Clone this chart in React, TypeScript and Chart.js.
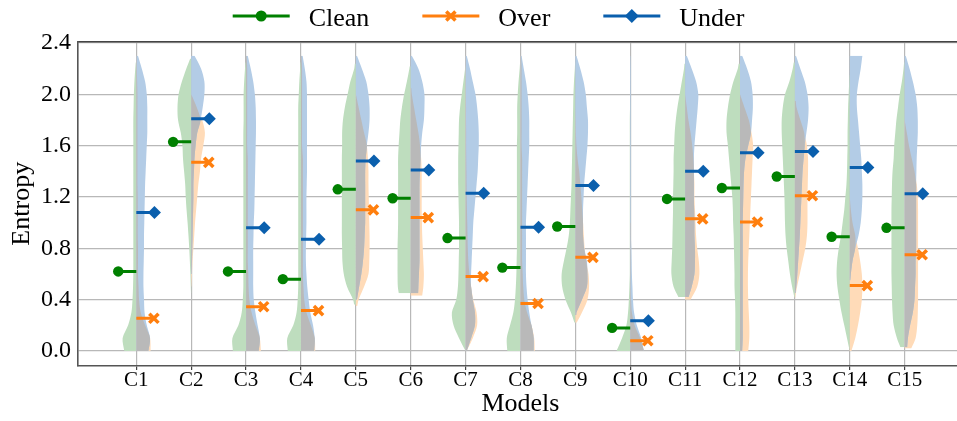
import { useEffect, useRef } from 'react';
import { Chart, registerables } from 'chart.js';

Chart.register(...registerables);

// ---------------- data ----------------
const categories = ['C1', 'C2', 'C3', 'C4', 'C5', 'C6', 'C7', 'C8', 'C9', 'C10', 'C11', 'C12', 'C13', 'C14', 'C15'];

const cleanMean = [0.62, 1.63, 0.62, 0.56, 1.26, 1.19, 0.88, 0.65, 0.97, 0.18, 1.185, 1.27, 1.36, 0.89, 0.96];
const overMean = [0.255, 1.47, 0.345, 0.315, 1.10, 1.04, 0.58, 0.37, 0.73, 0.08, 1.03, 1.005, 1.21, 0.51, 0.75];
const underMean = [1.08, 1.81, 0.96, 0.87, 1.48, 1.41, 1.23, 0.965, 1.29, 0.235, 1.40, 1.545, 1.555, 1.43, 1.225];

const yTicks = [0, 0.4, 0.8, 1.2, 1.6, 2.0, 2.4];

// entropy levels at which the (half-)violin densities are read
const densityLevels = [0, 0.1, 0.2, 0.3, 0.4, 0.5, 0.6, 0.7, 0.8, 0.9, 1.0, 1.1, 1.2, 1.3, 1.4, 1.5, 1.6, 1.7, 1.8, 1.9, 2.0, 2.1, 2.2, 2.3];

const cleanRange = [[0, 2.25], [0.45, 2.28], [0, 2.25], [0, 2.25], [0.36, 2.24], [0.45, 2.22], [0, 2.22], [0, 2.25], [0.22, 2.25], [0, 1.95], [0.42, 2.24], [0, 2.24], [0.42, 2.25], [0, 2.15], [0.03, 2.25]];
const overRange = [[0, 2.3], [0.5, 2.0], [0, 2.3], [0, 2.3], [0.35, 2.0], [0.43, 2.05], [0, 2.3], [0, 2.3], [0.22, 1.9], [0, 1.0], [0.4, 2.0], [0, 2.0], [0.41, 1.95], [0, 1.2], [0.02, 1.8]];
const underRange = [[0, 2.3], [0.6, 2.3], [0, 2.3], [0, 2.3], [0.4, 2.3], [0.45, 2.3], [0, 2.3], [0, 2.3], [0.28, 2.3], [0, 2.3], [0.42, 2.3], [0, 2.3], [0.45, 2.3], [0.55, 2.3], [0.03, 2.3]];

const cleanDensity = [
  [0.22, 0.25, 0.15, 0.09, 0.07, 0.06, 0.055, 0.055, 0.055, 0.055, 0.055, 0.055, 0.055, 0.055, 0.055, 0.055, 0.055, 0.055, 0.055, 0.05, 0.045, 0.035, 0.02, 0],
  [0, 0, 0, 0, 0, 0.008, 0.015, 0.025, 0.036, 0.05, 0.066, 0.085, 0.1, 0.11, 0.13, 0.15, 0.16, 0.19, 0.24, 0.25, 0.23, 0.17, 0.09, 0],
  [0.24, 0.25, 0.14, 0.08, 0.06, 0.05, 0.05, 0.05, 0.05, 0.05, 0.05, 0.05, 0.05, 0.05, 0.05, 0.05, 0.05, 0.05, 0.045, 0.045, 0.045, 0.035, 0.02, 0],
  [0.24, 0.25, 0.14, 0.08, 0.06, 0.05, 0.05, 0.05, 0.05, 0.05, 0.05, 0.05, 0.05, 0.05, 0.05, 0.05, 0.05, 0.05, 0.05, 0.05, 0.04, 0.03, 0.015, 0],
  [0, 0, 0, 0, 0.05, 0.16, 0.22, 0.245, 0.25, 0.255, 0.255, 0.255, 0.255, 0.255, 0.255, 0.255, 0.25, 0.25, 0.235, 0.2, 0.15, 0.1, 0.03, 0],
  [0, 0, 0, 0, 0.2, 0.235, 0.24, 0.24, 0.24, 0.235, 0.23, 0.23, 0.23, 0.23, 0.23, 0.23, 0.22, 0.205, 0.19, 0.16, 0.12, 0.07, 0.025, 0],
  [0, 0.12, 0.22, 0.25, 0.17, 0.14, 0.13, 0.125, 0.12, 0.12, 0.12, 0.125, 0.13, 0.135, 0.135, 0.135, 0.13, 0.125, 0.12, 0.1, 0.07, 0.04, 0.01, 0],
  [0.24, 0.25, 0.19, 0.13, 0.1, 0.085, 0.075, 0.07, 0.065, 0.065, 0.065, 0.065, 0.065, 0.065, 0.065, 0.065, 0.065, 0.06, 0.06, 0.06, 0.05, 0.035, 0.015, 0],
  [0, 0, 0, 0.08, 0.18, 0.24, 0.25, 0.21, 0.16, 0.12, 0.1, 0.09, 0.08, 0.07, 0.065, 0.06, 0.055, 0.05, 0.045, 0.04, 0.035, 0.025, 0.01, 0],
  [0.25, 0.15, 0.07, 0.04, 0.025, 0.015, 0.008, 0.008, 0.008, 0.008, 0.008, 0.008, 0.008, 0.008, 0.008, 0.008, 0.008, 0.008, 0.008, 0.004, 0, 0, 0, 0],
  [0, 0, 0, 0, 0.1, 0.21, 0.25, 0.245, 0.235, 0.23, 0.225, 0.22, 0.22, 0.215, 0.21, 0.21, 0.2, 0.19, 0.17, 0.14, 0.1, 0.06, 0.02, 0],
  [0.085, 0.085, 0.085, 0.085, 0.09, 0.1, 0.1, 0.105, 0.11, 0.115, 0.125, 0.13, 0.14, 0.16, 0.18, 0.2, 0.22, 0.245, 0.245, 0.22, 0.18, 0.12, 0.04, 0],
  [0, 0, 0, 0, 0, 0.05, 0.09, 0.12, 0.15, 0.17, 0.18, 0.185, 0.19, 0.2, 0.21, 0.22, 0.23, 0.24, 0.24, 0.22, 0.18, 0.1, 0.04, 0],
  [0, 0.05, 0.1, 0.15, 0.19, 0.225, 0.24, 0.23, 0.2, 0.16, 0.13, 0.1, 0.08, 0.06, 0.05, 0.045, 0.04, 0.04, 0.035, 0.03, 0.02, 0.01, 0, 0],
  [0.05, 0.14, 0.2, 0.22, 0.23, 0.235, 0.24, 0.24, 0.24, 0.24, 0.24, 0.24, 0.235, 0.23, 0.22, 0.2, 0.19, 0.17, 0.15, 0.12, 0.09, 0.05, 0.02, 0],
];

const overDensity = [
  [0.26, 0.25, 0.16, 0.08, 0.05, 0.04, 0.03, 0.03, 0.03, 0.025, 0.025, 0.025, 0.025, 0.02, 0.02, 0.02, 0.02, 0.02, 0.02, 0.02, 0.02, 0.015, 0.01, 0.01],
  [0, 0, 0, 0, 0, 0.005, 0.015, 0.025, 0.04, 0.055, 0.07, 0.09, 0.11, 0.13, 0.16, 0.18, 0.22, 0.25, 0.2, 0.1, 0, 0, 0, 0],
  [0.27, 0.25, 0.17, 0.1, 0.06, 0.045, 0.04, 0.03, 0.03, 0.03, 0.03, 0.03, 0.03, 0.03, 0.03, 0.03, 0.02, 0.02, 0.02, 0.02, 0.02, 0.02, 0.02, 0.01],
  [0.26, 0.25, 0.18, 0.1, 0.06, 0.045, 0.035, 0.035, 0.035, 0.035, 0.035, 0.035, 0.035, 0.035, 0.035, 0.035, 0.02, 0.02, 0.02, 0.02, 0.02, 0.02, 0.02, 0.01],
  [0, 0, 0, 0, 0.05, 0.15, 0.23, 0.245, 0.25, 0.25, 0.245, 0.24, 0.235, 0.23, 0.23, 0.22, 0.2, 0.15, 0.1, 0.05, 0, 0, 0, 0],
  [0, 0, 0, 0, 0.2, 0.23, 0.24, 0.23, 0.22, 0.21, 0.205, 0.2, 0.2, 0.2, 0.2, 0.19, 0.17, 0.14, 0.1, 0.06, 0.02, 0, 0, 0],
  [0.02, 0.13, 0.21, 0.2, 0.14, 0.1, 0.07, 0.05, 0.04, 0.035, 0.03, 0.025, 0.02, 0.018, 0.015, 0.012, 0.01, 0.01, 0.008, 0.008, 0.006, 0.005, 0.005, 0.005],
  [0.26, 0.25, 0.2, 0.12, 0.07, 0.05, 0.04, 0.03, 0.03, 0.03, 0.03, 0.03, 0.03, 0.03, 0.03, 0.03, 0.02, 0.02, 0.02, 0.02, 0.02, 0.02, 0.02, 0.01],
  [0, 0, 0, 0.12, 0.22, 0.25, 0.24, 0.2, 0.17, 0.155, 0.14, 0.125, 0.11, 0.09, 0.07, 0.04, 0.02, 0.01, 0.005, 0, 0, 0, 0, 0],
  [0.25, 0.18, 0.08, 0.03, 0.015, 0.008, 0.008, 0.008, 0.008, 0.008, 0.008, 0, 0, 0, 0, 0, 0, 0, 0, 0, 0, 0, 0, 0],
  [0, 0, 0, 0, 0.1, 0.22, 0.26, 0.25, 0.22, 0.2, 0.19, 0.18, 0.17, 0.17, 0.16, 0.15, 0.13, 0.1, 0.06, 0.03, 0, 0, 0, 0],
  [0.15, 0.17, 0.17, 0.16, 0.15, 0.145, 0.145, 0.15, 0.16, 0.17, 0.18, 0.19, 0.2, 0.21, 0.22, 0.23, 0.24, 0.21, 0.16, 0.08, 0, 0, 0, 0],
  [0, 0, 0, 0, 0, 0.04, 0.09, 0.14, 0.19, 0.22, 0.23, 0.23, 0.23, 0.235, 0.24, 0.24, 0.22, 0.17, 0.1, 0.03, 0, 0, 0, 0],
  [0.03, 0.1, 0.15, 0.19, 0.22, 0.23, 0.22, 0.19, 0.15, 0.1, 0.05, 0.02, 0, 0, 0, 0, 0, 0, 0, 0, 0, 0, 0, 0],
  [0.1, 0.2, 0.23, 0.24, 0.245, 0.245, 0.245, 0.245, 0.245, 0.245, 0.245, 0.245, 0.24, 0.22, 0.18, 0.13, 0.08, 0.04, 0, 0, 0, 0, 0, 0],
];

const underDensity = [
  [0.22, 0.25, 0.19, 0.15, 0.14, 0.13, 0.13, 0.135, 0.14, 0.14, 0.145, 0.15, 0.155, 0.16, 0.17, 0.18, 0.19, 0.2, 0.2, 0.2, 0.19, 0.16, 0.1, 0.03],
  [0, 0, 0, 0, 0, 0, 0.01, 0.015, 0.02, 0.025, 0.03, 0.035, 0.04, 0.04, 0.05, 0.06, 0.08, 0.11, 0.17, 0.21, 0.24, 0.24, 0.18, 0.06],
  [0.23, 0.25, 0.21, 0.17, 0.14, 0.13, 0.13, 0.13, 0.13, 0.135, 0.14, 0.15, 0.155, 0.16, 0.165, 0.17, 0.175, 0.18, 0.18, 0.175, 0.16, 0.13, 0.085, 0.03],
  [0.24, 0.25, 0.22, 0.17, 0.14, 0.115, 0.1, 0.09, 0.09, 0.095, 0.1, 0.1, 0.1, 0.105, 0.11, 0.11, 0.11, 0.11, 0.11, 0.11, 0.11, 0.1, 0.07, 0.03],
  [0, 0, 0, 0, 0.02, 0.06, 0.1, 0.13, 0.15, 0.16, 0.17, 0.17, 0.17, 0.17, 0.17, 0.18, 0.2, 0.23, 0.25, 0.25, 0.23, 0.19, 0.11, 0.02],
  [0, 0, 0, 0, 0.13, 0.14, 0.15, 0.16, 0.16, 0.16, 0.16, 0.16, 0.16, 0.16, 0.17, 0.18, 0.19, 0.21, 0.24, 0.25, 0.25, 0.21, 0.14, 0.02],
  [0.02, 0.1, 0.17, 0.17, 0.13, 0.1, 0.1, 0.11, 0.12, 0.13, 0.14, 0.16, 0.18, 0.2, 0.22, 0.23, 0.24, 0.24, 0.23, 0.21, 0.18, 0.13, 0.08, 0.02],
  [0.24, 0.24, 0.2, 0.16, 0.13, 0.11, 0.1, 0.1, 0.1, 0.1, 0.1, 0.11, 0.12, 0.13, 0.14, 0.15, 0.16, 0.16, 0.16, 0.15, 0.13, 0.1, 0.06, 0.02],
  [0, 0, 0, 0.02, 0.12, 0.21, 0.22, 0.21, 0.16, 0.14, 0.14, 0.14, 0.15, 0.16, 0.18, 0.2, 0.22, 0.23, 0.23, 0.21, 0.19, 0.15, 0.09, 0.02],
  [0.25, 0.2, 0.12, 0.07, 0.05, 0.04, 0.03, 0.025, 0.02, 0.012, 0.012, 0.012, 0.012, 0.012, 0.012, 0.012, 0.012, 0.012, 0.012, 0.012, 0.012, 0.012, 0.012, 0.006],
  [0, 0, 0, 0, 0.05, 0.12, 0.17, 0.18, 0.18, 0.17, 0.17, 0.165, 0.16, 0.16, 0.16, 0.16, 0.17, 0.19, 0.21, 0.23, 0.24, 0.2, 0.12, 0.03],
  [0.04, 0.05, 0.05, 0.05, 0.05, 0.05, 0.05, 0.05, 0.05, 0.05, 0.05, 0.055, 0.06, 0.065, 0.075, 0.1, 0.15, 0.2, 0.22, 0.235, 0.23, 0.2, 0.13, 0.04],
  [0, 0, 0, 0, 0, 0.025, 0.045, 0.06, 0.075, 0.09, 0.1, 0.11, 0.12, 0.13, 0.14, 0.16, 0.18, 0.21, 0.24, 0.25, 0.23, 0.18, 0.1, 0.02],
  [0, 0, 0, 0, 0, 0, 0.02, 0.05, 0.1, 0.16, 0.2, 0.22, 0.23, 0.23, 0.22, 0.21, 0.19, 0.17, 0.15, 0.13, 0.13, 0.16, 0.2, 0.23],
  [0.04, 0.06, 0.1, 0.15, 0.18, 0.19, 0.2, 0.2, 0.21, 0.21, 0.21, 0.21, 0.21, 0.21, 0.215, 0.22, 0.23, 0.24, 0.24, 0.23, 0.2, 0.15, 0.09, 0.02],
];

// ---------------- style ----------------
const SERIF = '"Liberation Serif", "Times New Roman", serif';
const cleanColor = '#008000';
const overColor = '#ff7f0e';
const underColor = '#0a5fad';
const fillColors = {
  clean: 'rgb(190,221,190)',
  over: 'rgb(255,219,184)',
  under: 'rgb(179,204,230)',
  both: 'rgb(185,185,185)',
};
const cleanOffset = -0.33;
const overOffset = 0.32;
const underOffset = 0.33;

function densityAt(d: number[], y: number): number {
  const step = densityLevels[1] - densityLevels[0];
  let i = Math.floor((y - densityLevels[0]) / step + 1e-9);
  if (i < 0) return d[0] ?? 0;
  if (i >= densityLevels.length - 1) return d[densityLevels.length - 1] ?? 0;
  const t = (y - densityLevels[i]) / step;
  return (d[i] ?? 0) * (1 - t) + (d[i + 1] ?? 0) * t;
}

function buildDatasets(): any[] {
  const datasets: any[] = [];
  const base = {
    type: 'line',
    xAxisID: 'x',
    yAxisID: 'y',
    borderWidth: 0,
    borderColor: 'rgba(0,0,0,0)',
    pointRadius: 0,
    pointHoverRadius: 0,
    pointHitRadius: 0,
    tension: 0.3,
  };
  categories.forEach((_, i) => {
    const c = i + 1;
    const half = (side: number, lo: number, hi: number, wAt: (y: number) => number, color: string, order: number) => {
      const ys = [lo, ...densityLevels.filter((l) => l > lo + 1e-6 && l < hi - 1e-6), hi];
      datasets.push({
        ...base,
        data: ys.map((y) => ({ x: c + side * wAt(y), y })),
        backgroundColor: color,
        fill: { value: c },
        order,
      });
    };
    half(-1, cleanRange[i][0], cleanRange[i][1], (y) => densityAt(cleanDensity[i], y), fillColors.clean, 5);
    half(1, underRange[i][0], underRange[i][1], (y) => densityAt(underDensity[i], y), fillColors.under, 4);
    half(1, overRange[i][0], overRange[i][1], (y) => densityAt(overDensity[i], y), fillColors.over, 4);
    const lo = Math.max(underRange[i][0], overRange[i][0]);
    const hi = Math.min(underRange[i][1], overRange[i][1]);
    if (hi > lo) {
      half(1, lo, hi, (y) => Math.min(densityAt(underDensity[i], y), densityAt(overDensity[i], y)), fillColors.both, 3);
    }
  });

  const markerBase = {
    type: 'line',
    xAxisID: 'x',
    yAxisID: 'y',
    fill: false,
    tension: 0,
    borderWidth: 3,
    borderCapStyle: 'butt',
    spanGaps: false,
    pointHoverRadius: 0,
    pointHitRadius: 0,
    order: 1,
  };
  datasets.push({
    ...markerBase,
    label: 'Clean',
    data: cleanMean.flatMap((m, i) => [{ x: i + 1 + cleanOffset, y: m }, { x: i + 1, y: m }, { x: i + 1, y: null }]),
    borderColor: cleanColor,
    pointStyle: 'circle',
    pointBackgroundColor: cleanColor,
    pointBorderColor: cleanColor,
    pointBorderWidth: 0,
    pointRadius: (ctx: any) => (ctx.dataIndex % 3 === 0 ? 5.2 : 0),
  });
  datasets.push({
    ...markerBase,
    label: 'Over',
    data: overMean.flatMap((m, i) => [{ x: i + 1, y: m }, { x: i + 1 + overOffset, y: m }, { x: i + 1, y: null }]),
    borderColor: overColor,
    pointStyle: 'crossRot',
    pointBackgroundColor: overColor,
    pointBorderColor: overColor,
    pointBorderWidth: 3.5,
    pointRadius: (ctx: any) => (ctx.dataIndex % 3 === 1 ? 6.5 : 0),
  });
  datasets.push({
    ...markerBase,
    label: 'Under',
    data: underMean.flatMap((m, i) => [{ x: i + 1, y: m }, { x: i + 1 + underOffset, y: m }, { x: i + 1, y: null }]),
    borderColor: underColor,
    pointStyle: 'rectRot',
    pointBackgroundColor: underColor,
    pointBorderColor: underColor,
    pointBorderWidth: 0,
    pointRadius: (ctx: any) => (ctx.dataIndex % 3 === 1 ? 6.5 : 0),
  });
  return datasets;
}

const legendItems = [
  { label: 'Clean', color: cleanColor, marker: 'circle' },
  { label: 'Over', color: overColor, marker: 'x' },
  { label: 'Under', color: underColor, marker: 'diamond' },
];

function drawMarker(ctx: CanvasRenderingContext2D, marker: string, x: number, y: number, color: string) {
  ctx.save();
  ctx.fillStyle = color;
  ctx.strokeStyle = color;
  if (marker === 'circle') {
    ctx.beginPath();
    ctx.arc(x, y, 5.5, 0, Math.PI * 2);
    ctx.fill();
  } else if (marker === 'x') {
    const r = 4.6;
    ctx.lineWidth = 3.5;
    ctx.beginPath();
    ctx.moveTo(x - r, y - r);
    ctx.lineTo(x + r, y + r);
    ctx.moveTo(x + r, y - r);
    ctx.lineTo(x - r, y + r);
    ctx.stroke();
  } else {
    const r = 7;
    ctx.beginPath();
    ctx.moveTo(x - r, y);
    ctx.lineTo(x, y - r);
    ctx.lineTo(x + r, y);
    ctx.lineTo(x, y + r);
    ctx.closePath();
    ctx.fill();
  }
  ctx.restore();
}

const legendPlugin = {
  id: 'lineMarkerLegend',
  afterDraw(chart: any) {
    const ctx: CanvasRenderingContext2D = chart.ctx;
    ctx.save();
    ctx.font = `26px ${SERIF}`;
    const handle = 57;
    const gap = 19;
    const spacing = 53;
    const widths = legendItems.map((it) => ctx.measureText(it.label).width);
    const total = widths.reduce((a, w) => a + handle + gap + w, 0) + spacing * (legendItems.length - 1);
    let x = 488.5 - total / 2;
    const yLine = 16;
    const yText = 26;
    legendItems.forEach((it, i) => {
      ctx.strokeStyle = it.color;
      ctx.lineWidth = 3;
      ctx.beginPath();
      ctx.moveTo(x, yLine);
      ctx.lineTo(x + handle, yLine);
      ctx.stroke();
      drawMarker(ctx, it.marker, x + handle / 2, yLine, it.color);
      ctx.fillStyle = '#000';
      ctx.textAlign = 'left';
      ctx.textBaseline = 'alphabetic';
      ctx.fillText(it.label, x + handle + gap, yText);
      x += handle + gap + widths[i] + spacing;
    });
    ctx.restore();
  },
};

export default function App() {
  const ref = useRef<HTMLCanvasElement>(null);
  useEffect(() => {
    if (!ref.current) return;
    Chart.defaults.font.family = SERIF;
    Chart.defaults.color = '#000';
    const chart = new Chart(ref.current, {
      type: 'line',
      data: { datasets: buildDatasets() },
      options: {
        animation: false,
        responsive: false,
        indexAxis: 'y',
        events: [],
        layout: { padding: 0 },
        plugins: {
          legend: { display: false },
          tooltip: { enabled: false },
        },
        scales: {
          x: {
            type: 'linear',
            axis: 'x',
            position: 'bottom',
            min: -0.063,
            max: 16.06,
            afterBuildTicks: (scale: any) => {
              scale.ticks = categories.map((_, i) => ({ value: i + 1 }));
            },
            afterFit: (scale: any) => {
              scale.height = 55;
            },
            ticks: {
              autoSkip: false,
              maxRotation: 0,
              padding: 0,
              color: '#000',
              font: { size: 21, family: SERIF, lineHeight: 1 },
              callback: (v: any) => categories[Math.round(Number(v)) - 1] ?? '',
            },
            grid: {
              color: '#b8b8b8',
              lineWidth: 1.2,
              drawTicks: true,
              tickLength: 4,
              tickColor: '#444',
              tickWidth: 1.2,
            },
            border: { display: true, color: '#555', width: 1.6 },
            title: {
              display: true,
              text: 'Models',
              color: '#000',
              font: { size: 26, family: SERIF, lineHeight: 1.2 },
              padding: { top: 0, bottom: 1 },
            },
          },
          xTop: {
            type: 'linear',
            axis: 'x',
            position: 'top',
            min: -0.063,
            max: 16.06,
            afterFit: (scale: any) => {
              scale.height = 41.5;
            },
            ticks: { display: false },
            grid: { display: false, drawTicks: false },
            border: { display: true, color: '#444', width: 1.6 },
          },
          y: {
            type: 'linear',
            position: 'left',
            min: -0.117,
            max: 2.412,
            afterBuildTicks: (scale: any) => {
              scale.ticks = yTicks.map((v) => ({ value: v }));
            },
            afterFit: (scale: any) => {
              scale.width = 78;
            },
            ticks: {
              padding: 7,
              color: '#000',
              font: { size: 24, family: SERIF },
              callback: (v: any) => Number(v).toFixed(1),
            },
            grid: { color: '#b8b8b8', lineWidth: 1.2, drawTicks: false },
            border: { display: true, color: '#555', width: 1.6 },
            title: {
              display: true,
              text: 'Entropy',
              color: '#000',
              font: { size: 26, family: SERIF, lineHeight: 1.2 },
              padding: { top: 7, bottom: 0 },
            },
          },
        },
      } as any,
      plugins: [legendPlugin],
    } as any);
    return () => chart.destroy();
  }, []);

  return (
    <div style={{ position: 'absolute', left: 0, top: 0, width: 957, height: 421, overflow: 'hidden', background: '#fff' }}>
      <canvas ref={ref} width={968} height={421} style={{ display: 'block', width: 968, height: 421 }} />
    </div>
  );
}
